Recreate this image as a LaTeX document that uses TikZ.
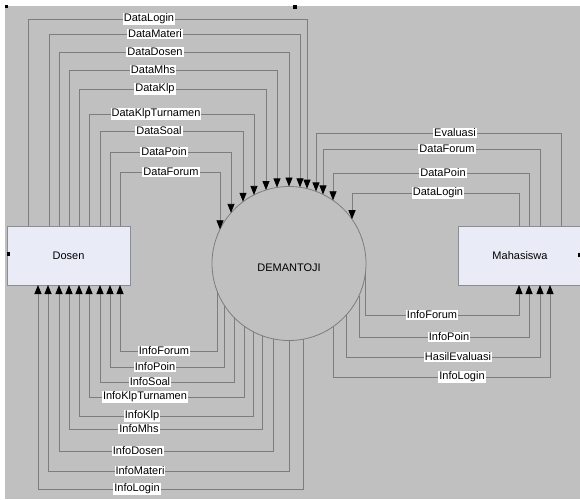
\documentclass[tikz,border=0pt]{standalone}
\usepackage{fontspec}
\setmainfont{Liberation Sans}
\usetikzlibrary{arrows.meta,calc}
\definecolor{bggrey}{RGB}{192,192,192}
\definecolor{lineg}{RGB}{125,125,125}
\definecolor{boxfill}{RGB}{233,235,247}
\definecolor{boxline}{RGB}{140,140,150}
\begin{document}
\begin{tikzpicture}[x=1pt,y=-1pt,
  flow/.style={draw=lineg,line width=0.8pt},
  arr/.style={-{Triangle[width=7pt,length=9pt,color=black]}},
  lbl/.style={fill=white,inner sep=1pt,font=\fontsize{11}{13}\selectfont,text=black},
  entity/.style={draw=boxline,fill=boxfill,line width=0.8pt,minimum height=59pt,inner sep=0pt,outer sep=0pt,font=\fontsize{11}{13}\selectfont}]
\useasboundingbox (0,0) rectangle (580,499);
\fill[white] (0,0) rectangle (580,499);
\fill[bggrey] (5,6) rectangle (580,499);
% entities
\node[entity,minimum width=123pt] (dosen) at (68.5,255.5) {Dosen};
\node[entity,minimum width=124pt] (mhs) at (520,255.5) {Mahasiswa};
% process
\node[circle,draw=lineg,line width=0.8pt,fill=bggrey,minimum size=154pt,inner sep=0pt,outer sep=0pt,
  font=\fontsize{11}{13}\selectfont,text height=15pt,text depth=0pt] (c) at (289,263.5) {DEMANTOJI};
% Dosen -> process
\foreach \xa/\yy/\xb/\lx/\txt [count=\i] in {
  28/19/307/149/DataLogin, 49/34/300/155/DataMateri, 59/52/289/155/DataDosen,
  69/70/277/153/DataMhs, 79/89/266/155/DataKlp, 89/114/254/156/DataKlpTurnamen,
  100/131/243/159/DataSoal, 110/152/231/164/DataPoin, 120/172/220/171/DataForum}{
  \pgfmathsetmacro\dy{sqrt(77*77-(\xb-289)*(\xb-289))}
  \draw[flow,arr] (\xa,0 |- dosen.north) |- (\xb,\yy) -- ($(c.center)+(\xb-289,-\dy)$);
  \node[lbl] (dl\i) at (\lx,\yy) {\txt};
}
% Mahasiswa -> process
\foreach \xa/\yy/\xb/\lx/\txt [count=\i] in {
  561/133/316/455/Evaluasi, 540/149/323/447/DataForum,
  529/173/333/443/DataPoin, 519/193/352/438/DataLogin}{
  \pgfmathsetmacro\dy{sqrt(77*77-(\xb-289)*(\xb-289))}
  \draw[flow,arr] (\xa,0 |- mhs.north) |- (\xb,\yy) -- ($(c.center)+(\xb-289,-\dy)$);
  \node[lbl] (ml\i) at (\lx,\yy) {\txt};
}
% process -> Dosen
\foreach \xa/\yy/\xb/\lx/\txt [count=\i] in {
  120/351/217/164/InfoForum, 110/367/224/155/InfoPoin, 100/382/234/150/InfoSoal,
  89/397/244/145/InfoKlpTurnamen, 79/416/253/142/InfoKlp, 69/429/262/139/InfoMhs,
  59/451/273/138/InfoDosen, 48/471/289/140/InfoMateri, 38/489/303/137/InfoLogin}{
  \pgfmathsetmacro\dy{sqrt(77*77-(\xb-289)*(\xb-289))}
  \draw[flow,arr] ($(c.center)+(\xb-289,\dy)$) |- (\xa,\yy) -- (\xa,0 |- dosen.south);
  \node[lbl] (di\i) at (\lx,\yy) {\txt};
}
% process -> Mahasiswa
\foreach \xa/\yy/\xb/\lx/\txt [count=\i] in {
  519/315/365.5/432/InfoForum, 529/337/359/449/InfoPoin,
  540/357/346/458/HasilEvaluasi, 550/377/333/462/InfoLogin}{
  \pgfmathsetmacro\dy{sqrt(77*77-(\xb-289)*(\xb-289))}
  \draw[flow,arr] ($(c.center)+(\xb-289,\dy)$) |- (\xa,\yy) -- (\xa,0 |- mhs.south);
  \node[lbl] (mi\i) at (\lx,\yy) {\txt};
}
% selection handles
\fill[black] (5,5) rectangle (8,8);
\fill[black] (293,5) rectangle (297,9);
\fill[black] (6.5,252) rectangle (9.5,256);
\fill[black] (577.5,253) rectangle (580,257);
\end{tikzpicture}
\end{document}
